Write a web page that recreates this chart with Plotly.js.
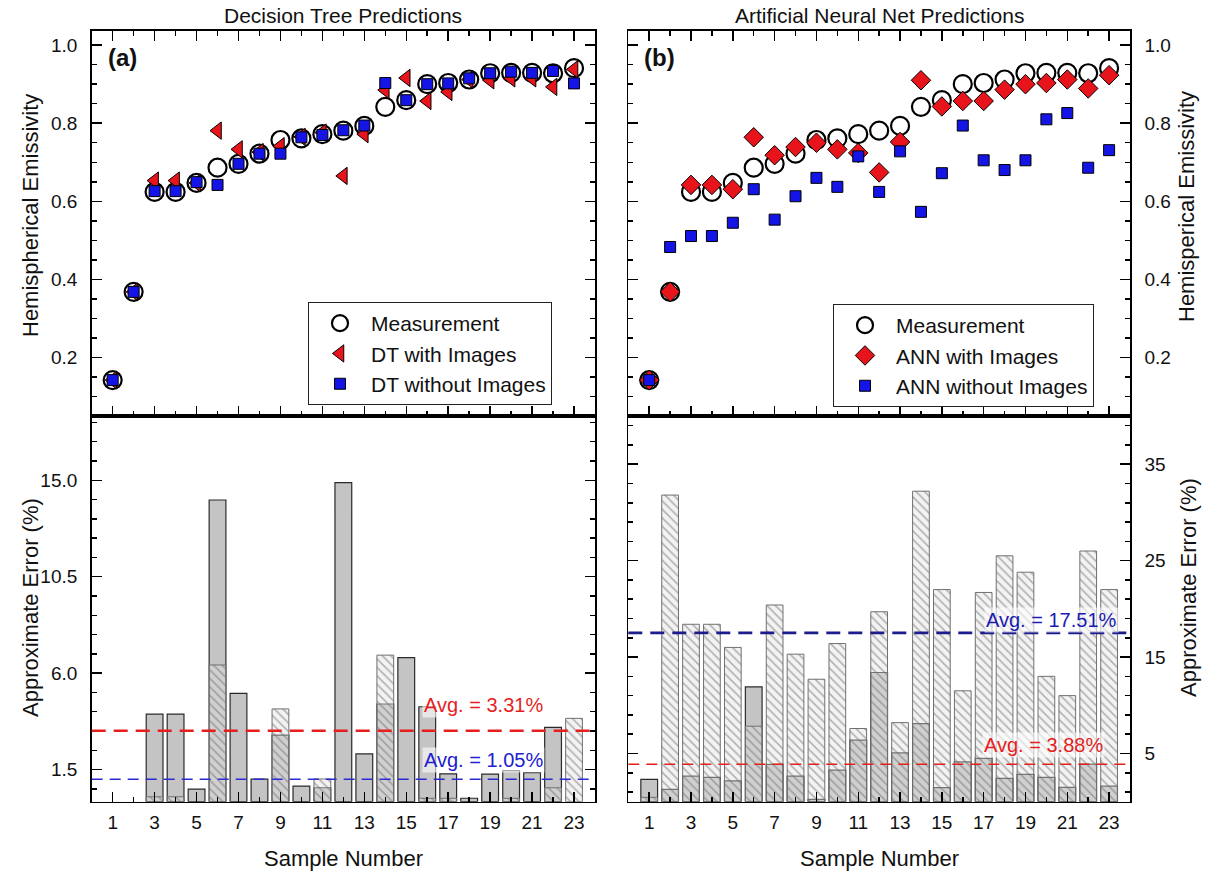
<!DOCTYPE html>
<html><head><meta charset="utf-8">
<script src="https://cdn.plot.ly/plotly-3.0.1.min.js"></script>
<style>html,body{margin:0;padding:0;background:#fff}#chart{width:1206px;height:875px}</style>
</head><body><div id="chart"></div>
<script>
// ---------- data ----------
const samples = [1,2,3,4,5,6,7,8,9,10,11,12,13,14,15,16,17,18,19,20,21,22,23];
const measurement = [0.142,0.368,0.624,0.624,0.647,0.686,0.696,0.722,0.757,0.761,0.772,0.781,0.793,0.842,0.859,0.900,0.903,0.912,0.928,0.929,0.929,0.928,0.941];
const dtWithImages = [0.142,0.368,0.653,0.653,0.647,0.781,0.733,0.726,0.741,0.765,0.776,0.665,0.772,0.885,0.916,0.857,0.880,0.912,0.910,0.915,0.915,0.893,0.938];
const dtWithoutImages = [0.142,0.368,0.626,0.626,0.649,0.642,0.696,0.722,0.722,0.764,0.770,0.782,0.794,0.903,0.859,0.900,0.902,0.915,0.928,0.932,0.929,0.934,0.902];
const annWithImages = [0.142,0.368,0.642,0.642,0.631,0.764,0.718,0.739,0.750,0.733,0.724,0.674,0.752,0.910,0.843,0.857,0.857,0.886,0.900,0.903,0.912,0.889,0.923];
const annWithoutImages = [0.142,0.483,0.511,0.511,0.545,0.631,0.553,0.613,0.660,0.637,0.715,0.624,0.728,0.573,0.672,0.794,0.705,0.680,0.705,0.810,0.826,0.686,0.731];

const dtErrWith = [0,0,4.09,4.09,0.59,14.08,5.06,1.05,3.11,0.73,0.65,14.89,2.23,4.56,6.72,4.43,1.30,0.16,1.29,1.45,1.36,3.47,0];
const dtErrWithout = [0,0,0.23,0.23,0,6.38,0,0,4.33,0,1.06,0,0,6.84,0,0.16,0.16,0,0,0.16,0,0.65,3.89];
const annErrWith = [2.32,1.28,2.66,2.52,2.17,11.9,3.87,2.66,0.25,3.28,6.38,13.4,5.07,8.1,1.45,4.14,4.49,2.42,2.83,2.52,1.49,3.9,1.62];
const annErrWithout = [0.45,31.8,18.4,18.4,16.0,7.83,20.4,15.3,12.7,16.4,7.59,19.7,8.2,32.2,22.0,11.5,21.7,25.5,23.8,13.0,11.0,26.0,22.0];

const dtAvgWith = 3.31, dtAvgWithout = 1.05;
const annAvgWith = 3.88, annAvgWithout = 17.51;

// ---------- styling ----------
const FONT = 'Liberation Sans, Arial, sans-serif';
const RED = '#e8141c', BLUE = '#1414e6';
const nz = arr => arr.map(v => v === 0 ? null : v);   // zero error -> no bar drawn

function circleTrace(xa, ya, leg) {
  return {type:'scatter', mode:'markers', x:samples, y:measurement, xaxis:xa, yaxis:ya,
    name:'Measurement', legend:leg,
    marker:{symbol:'circle', size:18, color:'rgba(255,255,255,0)', line:{color:'#000', width:2.2}}};
}
function redTrace(xa, ya, leg, ys, name, sym, size) {
  return {type:'scatter', mode:'markers', x:samples, y:ys, xaxis:xa, yaxis:ya, name:name, legend:leg,
    marker:{symbol:sym, size:size, color:RED, line:{color:'#000', width:1}}};
}
function blueTrace(xa, ya, leg, ys, name) {
  return {type:'scatter', mode:'markers', x:samples, y:ys, xaxis:xa, yaxis:ya, name:name, legend:leg,
    marker:{symbol:'square', size:11, color:BLUE, line:{color:'#000', width:1}}};
}
function grayBar(xa, ya, ys) {
  return {type:'bar', x:samples, y:nz(ys), xaxis:xa, yaxis:ya, width:0.8, showlegend:false,
    marker:{color:'#c4c4c4', line:{color:'#2a2a2a', width:1.2}}};
}
function hatchBar(xa, ya, ys) {
  return {type:'bar', x:samples, y:nz(ys), xaxis:xa, yaxis:ya, width:0.8, showlegend:false,
    marker:{color:'rgba(225,225,225,0.4)', line:{color:'#707070', width:1},
      pattern:{shape:'\\', fgcolor:'#6e6e6e', size:6, solidity:0.26, fillmode:'overlay'}}};
}

const traces = [
  grayBar('x2','y2',dtErrWith), hatchBar('x2','y2',dtErrWithout),
  grayBar('x4','y4',annErrWith), hatchBar('x4','y4',annErrWithout),
  circleTrace('x','y','legend'),
  redTrace('x','y','legend',dtWithImages,'DT with Images','triangle-left',15),
  blueTrace('x','y','legend',dtWithoutImages,'DT without Images'),
  circleTrace('x3','y3','legend2'),
  redTrace('x3','y3','legend2',annWithImages,'ANN with Images','diamond',15),
  blueTrace('x3','y3','legend2',annWithoutImages,'ANN without Images')
];

const W = 1206, H = 875;
const LX = [91.7/W, 595/W], RX = [628.3/W, 1130/W];
const TY = [1-416/H, 1-30.7/H], BY = [1-801.7/H, 1-416/H];

const tickFont = {family:FONT, size:19, color:'#111'};
function xAx(domain, anchor, labels) {
  return {domain:domain, anchor:anchor, range:[0,24], tickmode:'linear', tick0:1, dtick:2,
    ticks:'inside', ticklen:10, tickwidth:1.5, tickcolor:'#000',
    showticklabels:labels, tickfont:tickFont, ticklabelstandoff:3,
    showline:true, linecolor:'#000', linewidth:1.6, mirror: labels ? true : 'ticks',
    showgrid:false, zeroline:false,
    minor:{ticks:'inside', ticklen:5, tickwidth:1.5, tickcolor:'#000', tick0:0, dtick:1, showgrid:false}};
}
function yAx(domain, anchor, side, range, tick0, dtick, fmt, mt0, mdt) {
  return {domain:domain, anchor:anchor, side:side, range:range, tickmode:'linear', tick0:tick0, dtick:dtick,
    tickformat:fmt, ticks:'inside', ticklen:10, tickwidth:1.5, tickcolor:'#000',
    tickfont:tickFont, ticklabelstandoff:9,
    showline:true, linecolor:'#000', linewidth:1.6, mirror:'ticks', showgrid:false, zeroline:false,
    minor:{ticks:'inside', ticklen:5, tickwidth:1.5, tickcolor:'#000', tick0:mt0, dtick:mdt, showgrid:false}};
}

function avgLine(xd, ya, val, color, width, dash) {
  return {type:'line', xref:xd, yref:ya, x0:0, x1:1, y0:val, y1:val, layer:'above',
    line:{color:color, width:width, dash:dash}};
}
function avgText(xa, ya, x, y, val, color) {
  return {xref:xa, yref:ya, x:x, y:y, xanchor:'left', yanchor:'middle', showarrow:false,
    text:'Avg. = ' + val.toFixed(2) + '%', font:{family:FONT, size:20, color:color},
    bgcolor:'rgba(255,255,255,0.6)', borderpad:1};
}
function paperText(x, y, text, size, angle, bold) {
  return {xref:'paper', yref:'paper', x:x/W, y:1-y/H, xanchor:'center', yanchor:'middle', showarrow:false,
    text: bold ? '<b>'+text+'</b>' : text, textangle:angle||0, font:{family:FONT, size:size, color:'#111'}};
}

const legendBase = {bordercolor:'#222', borderwidth:1, bgcolor:'#fff', xanchor:'left', yanchor:'top',
  font:{family:FONT, size:21, color:'#111'}, itemwidth:52, tracegroupgap:0, itemclick:false};

const layout = {
  width:W, height:H, margin:{l:0, r:0, t:0, b:0},
  paper_bgcolor:'#fff', plot_bgcolor:'#fff', barmode:'overlay', bargap:0,
  font:{family:FONT},
  xaxis: xAx(LX,'y',false), yaxis: yAx(TY,'x','left',[0.05,1.037],0,0.2,'.1f',0,0.05),
  xaxis2: xAx(LX,'y2',true), yaxis2: yAx(BY,'x2','left',[0,18],1.5,4.5,'.1f',1.5,0.9),
  xaxis3: xAx(RX,'y3',false), yaxis3: yAx(TY,'x3','right',[0.05,1.037],0,0.2,'.1f',0,0.05),
  xaxis4: xAx(RX,'y4',true), yaxis4: yAx(BY,'x4','right',[0,40],5,10,'d',1,2),
  legend: Object.assign({}, legendBase, {x:308/W, y:1-302/H}),
  legend2: Object.assign({}, legendBase, {x:833/W, y:1-304/H}),
  shapes: [
    avgLine('x2 domain','y2',dtAvgWith,'#e61e1e',2.6,'14px,8px'),
    avgLine('x2 domain','y2',dtAvgWithout,'#2b2bd6',1.4,'11px,7px'),
    avgLine('x4 domain','y4',annAvgWithout,'#1c1c8c',2.6,'14px,8px'),
    avgLine('x4 domain','y4',annAvgWith,'#e61e1e',1.4,'11px,7px')
  ],
  annotations: [
    avgText('x2','y2',15.75,4.5,dtAvgWith,'#e61e1e'),
    avgText('x2','y2',15.75,1.95,dtAvgWithout,'#2020d0'),
    avgText('x4','y4',17.0,18.8,annAvgWithout,'#1c1cb0'),
    avgText('x4','y4',16.9,5.9,annAvgWith,'#e61e1e'),
    paperText(343,16,'Decision Tree Predictions',21),
    paperText(879,16,'Artificial Neural Net Predictions',21),
    paperText(122,58,'(a)',24,0,true),
    paperText(659,58,'(b)',24,0,true),
    paperText(30,216,'Hemispherical Emissivity',22,-90),
    paperText(1187,207,'Hemisperical Emissivity',22,-90),
    paperText(30,608,'Approximate Error (%)',22,-90),
    paperText(1188,588,'Approximate Error (%)',22,-90),
    paperText(343,858,'Sample Number',22),
    paperText(879,858,'Sample Number',22)
  ]
};

Plotly.newPlot('chart', traces, layout, {displayModeBar:false, staticPlot:true});
</script>
</body></html>
